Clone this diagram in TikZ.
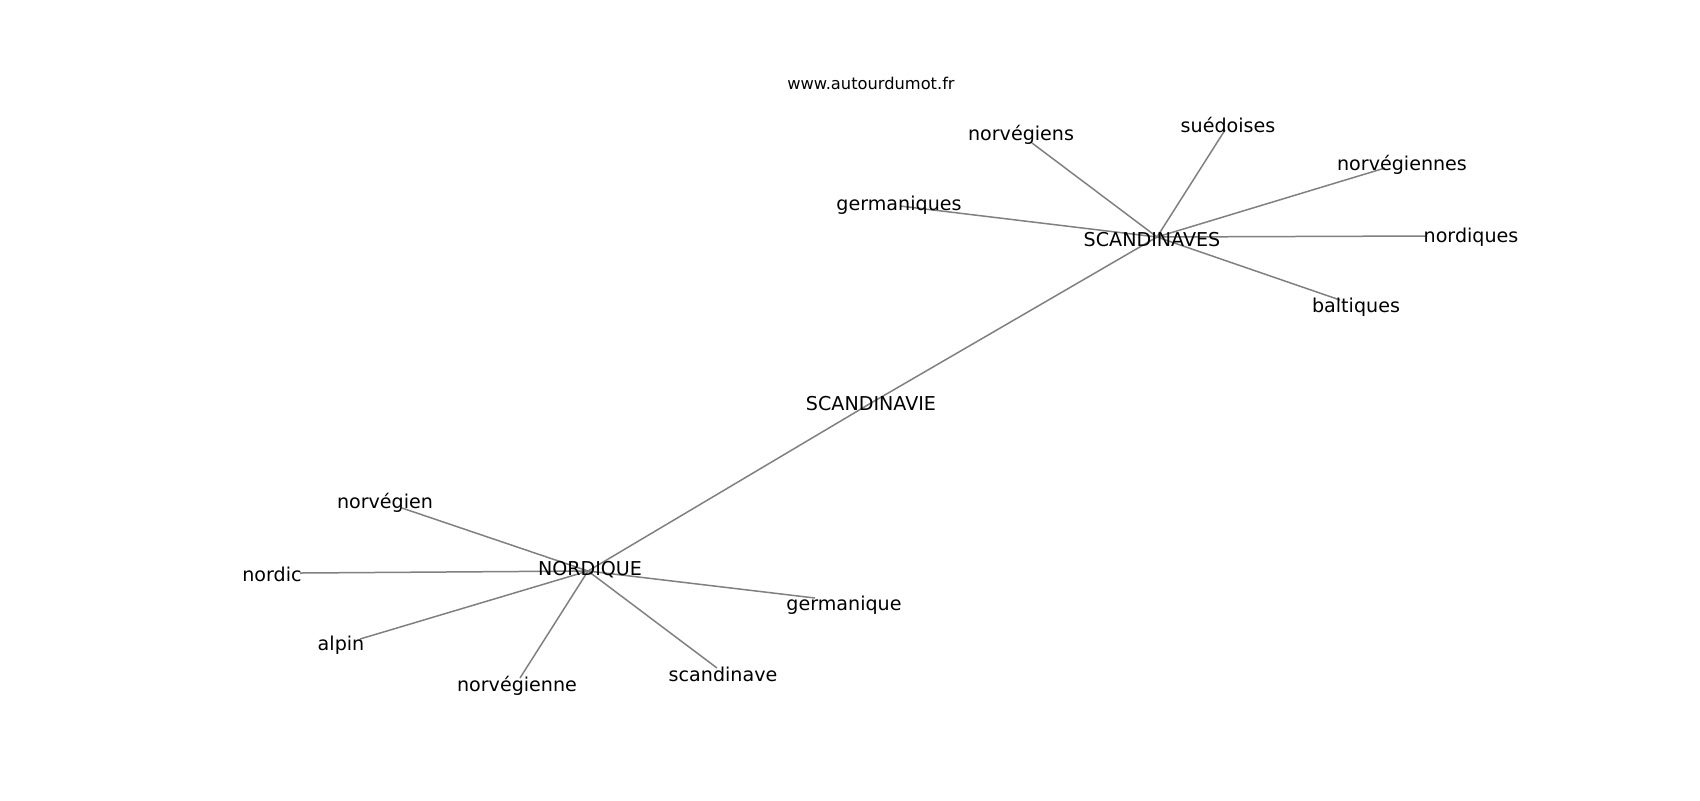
\documentclass[tikz,border=0pt]{standalone}
\usepackage{fontspec}
\setmainfont{DejaVu Sans}
\begin{document}
\begin{tikzpicture}[x=0.5pt,y=-0.5pt,
  lbl/.style={inner sep=0pt,font=\fontsize{9.55pt}{11pt}\selectfont},
  edge/.style={draw=gray,line width=0.75pt}]
\useasboundingbox (0,0) rectangle (1700,800);
% graph points
\coordinate (pSCS) at (1157,237);
\coordinate (pNOR) at (588,571);
\coordinate (pSCV) at (871,403);
\coordinate (pnorvs) at (1032,143);
\coordinate (pgerms) at (900,206);
\coordinate (psued) at (1225,130);
\coordinate (pnorvnes) at (1385,168);
\coordinate (pnordq) at (1427,236);
\coordinate (pbalt) at (1340,300);
\coordinate (pnorvien) at (402,508);
\coordinate (pnordic) at (300,573);
\coordinate (palpin) at (360,639);
\coordinate (pnorvne) at (520,678);
\coordinate (pscand) at (717,668);
\coordinate (pgerm) at (815,598);
% edges
\foreach \a/\b in {pSCS/pSCV,pSCV/pNOR,pSCS/pnorvs,pSCS/pgerms,pSCS/psued,pSCS/pnorvnes,pSCS/pnordq,pSCS/pbalt,pNOR/pnorvien,pNOR/pnordic,pNOR/palpin,pNOR/pnorvne,pNOR/pscand,pNOR/pgerm}
  \draw[edge] (\a) -- (\b);
% labels
\node[inner sep=0pt,font=\fontsize{8.13pt}{10pt}\selectfont] (www) at (871,83) {www.autourdumot.fr};
\node[lbl] (SCS) at (1152,240) {SCANDINAVES};
\node[lbl] (NOR) at (590,570) {NORDIQUE};
\node[lbl] (SCV) at (871,404) {SCANDINAVIE};
\node[lbl] (norvs) at (1021,135) {norvégiens};
\node[lbl] (germs) at (899,205) {germaniques};
\node[lbl] (sued) at (1228,125) {suédoises};
\node[lbl] (norvnes) at (1402,165) {norvégiennes};
\node[lbl] (nordq) at (1471,237) {nordiques};
\node[lbl] (balt) at (1356,307) {baltiques};
\node[lbl] (norvien) at (385,503) {norvégien};
\node[lbl] (nordic) at (272,574) {nordic};
\node[lbl] (alpin) at (341,645) {alpin};
\node[lbl] (norvne) at (517,686) {norvégienne};
\node[lbl] (scand) at (723,674) {scandinave};
\node[lbl] (germ) at (844,605) {germanique};
\end{tikzpicture}
\end{document}
